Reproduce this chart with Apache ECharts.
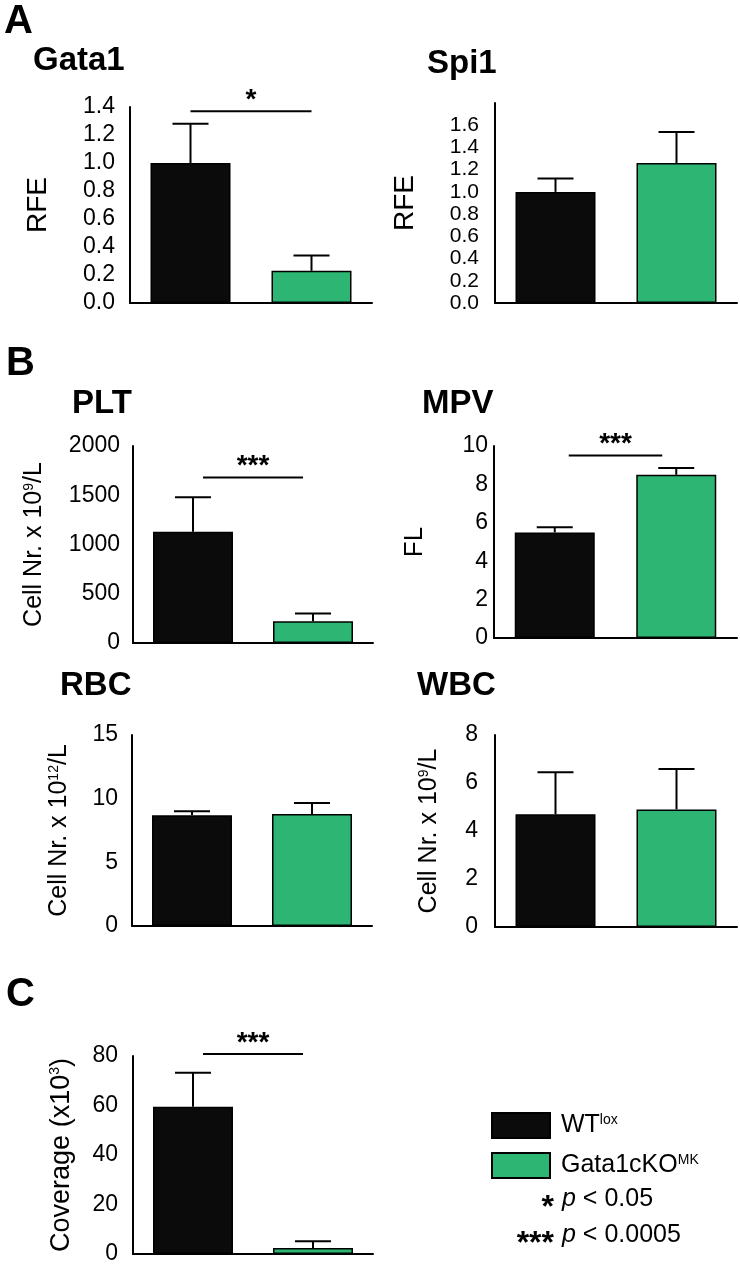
<!DOCTYPE html>
<html>
<head>
<meta charset="utf-8">
<script src="https://cdn.jsdelivr.net/npm/echarts@6/dist/echarts.min.js"></script>
<style>
  html, body { margin: 0; padding: 0; background: #fff; }
  #main { width: 740px; height: 1269px; }
</style>
</head>
<body>
<div id="main"></div>
<script>
var myChart = echarts.init(document.getElementById('main'));

// groups compared in every panel
const groups = ['WT', 'Gata1cKO'];

// means and upper error (SEM)
const gata1Mean = [1.0, 0.23];
const gata1Err = [0.28, 0.11];
const spi1Mean = [1.0, 1.26];
const spi1Err = [0.12, 0.28];
const pltMean = [1130, 220];
const pltErr = [350, 80];
const mpvMean = [5.5, 8.5];
const mpvErr = [0.27, 0.36];
const rbcMean = [8.7, 8.8];
const rbcErr = [0.32, 0.86];
const wbcMean = [4.7, 4.9];
const wbcErr = [1.75, 1.68];
const covMean = [59.5, 2.4];
const covErr = [13.7, 2.8];

// significance brackets: height of the line and its stars
const gata1Sig = { y: 1.37, stars: '*' };
const pltSig = { y: 1680, stars: '***' };
const mpvSig = { y: 9.5, stars: '***' };
const covSig = { y: 80.8, stars: '***' };

const FONT = 'Liberation Sans, Arial, Helvetica, sans-serif';
const BLACK = '#0b0b0b';
const GREEN = '#2db673';

var panels = [
  { title: 'Gata1', mean: gata1Mean, err: gata1Err, sig: gata1Sig, max: 1.4, interval: 0.2, dec: 1,
    name: 'RFE', nameGap: 78, nameSize: 28, labelSize: 23, labelMargin: 15,
    grid: { left: 130, top: 107, width: 242, height: 196 }, titlePos: [33, 44], inset: 0 },
  { title: 'Spi1', mean: spi1Mean, err: spi1Err, sig: null, max: 1.8, interval: 0.2, dec: 1, hideTop: true,
    name: 'RFE', nameGap: 76, nameSize: 28, labelSize: 21, labelMargin: 16,
    grid: { left: 495, top: 103, width: 242, height: 200 }, titlePos: [427, 47] },
  { title: 'PLT', mean: pltMean, err: pltErr, sig: pltSig, max: 2000, interval: 500, dec: 0,
    name: 'Cell Nr. x 10{sup|9}/L', nameGap: 86, nameSize: 25, labelSize: 23, labelMargin: 13,
    grid: { left: 133, top: 446, width: 240, height: 197 }, titlePos: [72, 387], inset: 10 },
  { title: 'MPV', mean: mpvMean, err: mpvErr, sig: mpvSig, max: 10, interval: 2, dec: 0,
    name: 'FL', nameGap: 66, nameSize: 26, labelSize: 23, labelMargin: 6,
    grid: { left: 494, top: 446, width: 243, height: 192 }, titlePos: [422, 387], inset: 14 },
  { title: 'RBC', mean: rbcMean, err: rbcErr, sig: null, max: 15, interval: 5, dec: 0,
    name: 'Cell Nr. x 10{sup|12}/L', nameGap: 60, nameSize: 25, labelSize: 23, labelMargin: 14,
    grid: { left: 132, top: 735, width: 240, height: 191 }, titlePos: [60, 669] },
  { title: 'WBC', mean: wbcMean, err: wbcErr, sig: null, max: 8, interval: 2, dec: 0,
    name: 'Cell Nr. x 10{sup|9}/L', nameGap: 53, nameSize: 25, labelSize: 23, labelMargin: 17,
    grid: { left: 495, top: 735, width: 242, height: 192 }, titlePos: [417, 669] },
  { title: '', mean: covMean, err: covErr, sig: covSig, max: 80, interval: 20, dec: 0,
    name: 'Coverage (x10{sup|3})', nameGap: 58, nameSize: 27, labelSize: 23, labelMargin: 15,
    grid: { left: 133, top: 1056, width: 240, height: 198 }, inset: 10 }
];

var supRich = {
  sup: { fontSize: 14, fontFamily: FONT, color: '#000', verticalAlign: 'top' }
};

function errorBars(params, api) {
  var base = api.coord([api.value(0), api.value(1)]);
  var top = api.coord([api.value(0), api.value(1) + api.value(2)]);
  var cap = 18;
  var st = { stroke: '#000', lineWidth: 2 };
  return {
    type: 'group',
    children: [
      { type: 'line', shape: { x1: base[0], y1: base[1], x2: top[0], y2: top[1] }, style: st },
      { type: 'line', shape: { x1: top[0] - cap, y1: top[1], x2: top[0] + cap, y2: top[1] }, style: st }
    ]
  };
}

function bracket(p) {
  return function (params, api) {
    var a = api.coord([0, p.sig.y]);
    var b = api.coord([1, p.sig.y]);
    var x1 = a[0] + p.inset, x2 = b[0] - p.inset;
    return {
      type: 'group',
      children: [
        { type: 'line', shape: { x1: x1, y1: a[1], x2: x2, y2: a[1] }, style: { stroke: '#000', lineWidth: 2 } },
        { type: 'text', style: { text: p.sig.stars, x: (x1 + x2) / 2, y: a[1] + 3, align: 'center', verticalAlign: 'bottom',
          font: 'bold 28px ' + FONT, fill: '#000' } }
      ]
    };
  };
}

var grids = [], xAxes = [], yAxes = [], series = [];
var titles = [
  { text: 'A', left: 4, top: 2 },
  { text: 'B', left: 6, top: 344 },
  { text: 'C', left: 6, top: 975 }
].map(function (t) {
  return Object.assign({ padding: 0, textStyle: { fontFamily: FONT, fontWeight: 'bold', fontSize: 40, color: '#000' } }, t);
});

panels.forEach(function (p, i) {
  grids.push(p.grid);
  xAxes.push({
    gridIndex: i, type: 'category', data: groups,
    axisLine: { lineStyle: { color: '#000', width: 2 } },
    axisTick: { show: false }, axisLabel: { show: false }
  });
  yAxes.push({
    gridIndex: i, type: 'value', min: 0, max: p.max, interval: p.interval,
    splitLine: { show: false },
    axisLine: { show: true, lineStyle: { color: '#000', width: 2 } },
    axisTick: { show: false },
    axisLabel: {
      color: '#000', fontFamily: FONT, fontSize: p.labelSize, margin: p.labelMargin,
      formatter: function (v) {
        if (p.hideTop && v >= p.max - 1e-9) return '';
        return v.toFixed(p.dec);
      }
    },
    name: p.name, nameLocation: 'middle', nameGap: p.nameGap,
    nameTextStyle: { color: '#000', fontFamily: FONT, fontSize: p.nameSize, rich: supRich }
  });
  series.push({
    name: groups[0], type: 'bar', xAxisIndex: i, yAxisIndex: i, barWidth: 80, barGap: '-100%',
    data: [p.mean[0], '-'], z: 3,
    itemStyle: { color: BLACK, borderColor: '#000', borderWidth: 1.5 }
  });
  series.push({
    name: groups[1], type: 'bar', xAxisIndex: i, yAxisIndex: i, barWidth: 80, barGap: '-100%',
    data: ['-', p.mean[1]], z: 3,
    itemStyle: { color: GREEN, borderColor: '#000', borderWidth: 1.5 }
  });
  series.push({
    type: 'custom', xAxisIndex: i, yAxisIndex: i, z: 2, silent: true,
    renderItem: errorBars,
    data: [[0, p.mean[0], p.err[0]], [1, p.mean[1], p.err[1]]]
  });
  if (p.sig) {
    series.push({
      type: 'custom', xAxisIndex: i, yAxisIndex: i, z: 4, silent: true,
      renderItem: bracket(p), data: [[0]]
    });
  }
  if (p.title) {
    titles.push({
      text: p.title, left: p.titlePos[0], top: p.titlePos[1], padding: 0,
      textStyle: { fontFamily: FONT, fontWeight: 'bold', fontSize: 33, color: '#000' }
    });
  }
});

// p-value key
var keyStyle = { fontFamily: FONT, fontSize: 25, fontWeight: 'normal', color: '#000',
  rich: { i: { fontStyle: 'italic', fontFamily: FONT, fontSize: 25, color: '#000' } } };
titles.push({ text: '{i|p} < 0.05', left: 562, top: 1187, padding: 0, textStyle: keyStyle });
titles.push({ text: '{i|p} < 0.0005', left: 562, top: 1223, padding: 0, textStyle: keyStyle });
titles.push({ text: '*', right: 186, top: 1192, padding: 0,
  textStyle: { fontFamily: FONT, fontSize: 32, fontWeight: 'bold', color: '#000' } });
titles.push({ text: '***', right: 186, top: 1228, padding: 0,
  textStyle: { fontFamily: FONT, fontSize: 32, fontWeight: 'bold', color: '#000' } });

var option = {
  animation: false,
  title: titles,
  grid: grids,
  xAxis: xAxes,
  yAxis: yAxes,
  legend: {
    data: groups, orient: 'vertical', left: 491, top: 1112, padding: 0,
    icon: 'rect', itemWidth: 58, itemHeight: 25, itemGap: 13, selectedMode: false,
    formatter: function (n) { return n === 'WT' ? 'WT{sup|lox}' : 'Gata1cKO{sup|MK}'; },
    textStyle: { fontFamily: FONT, fontSize: 25, color: '#000', padding: [0, 0, 0, 6], rich: supRich }
  },
  series: series
};

myChart.setOption(option);
</script>
</body>
</html>
